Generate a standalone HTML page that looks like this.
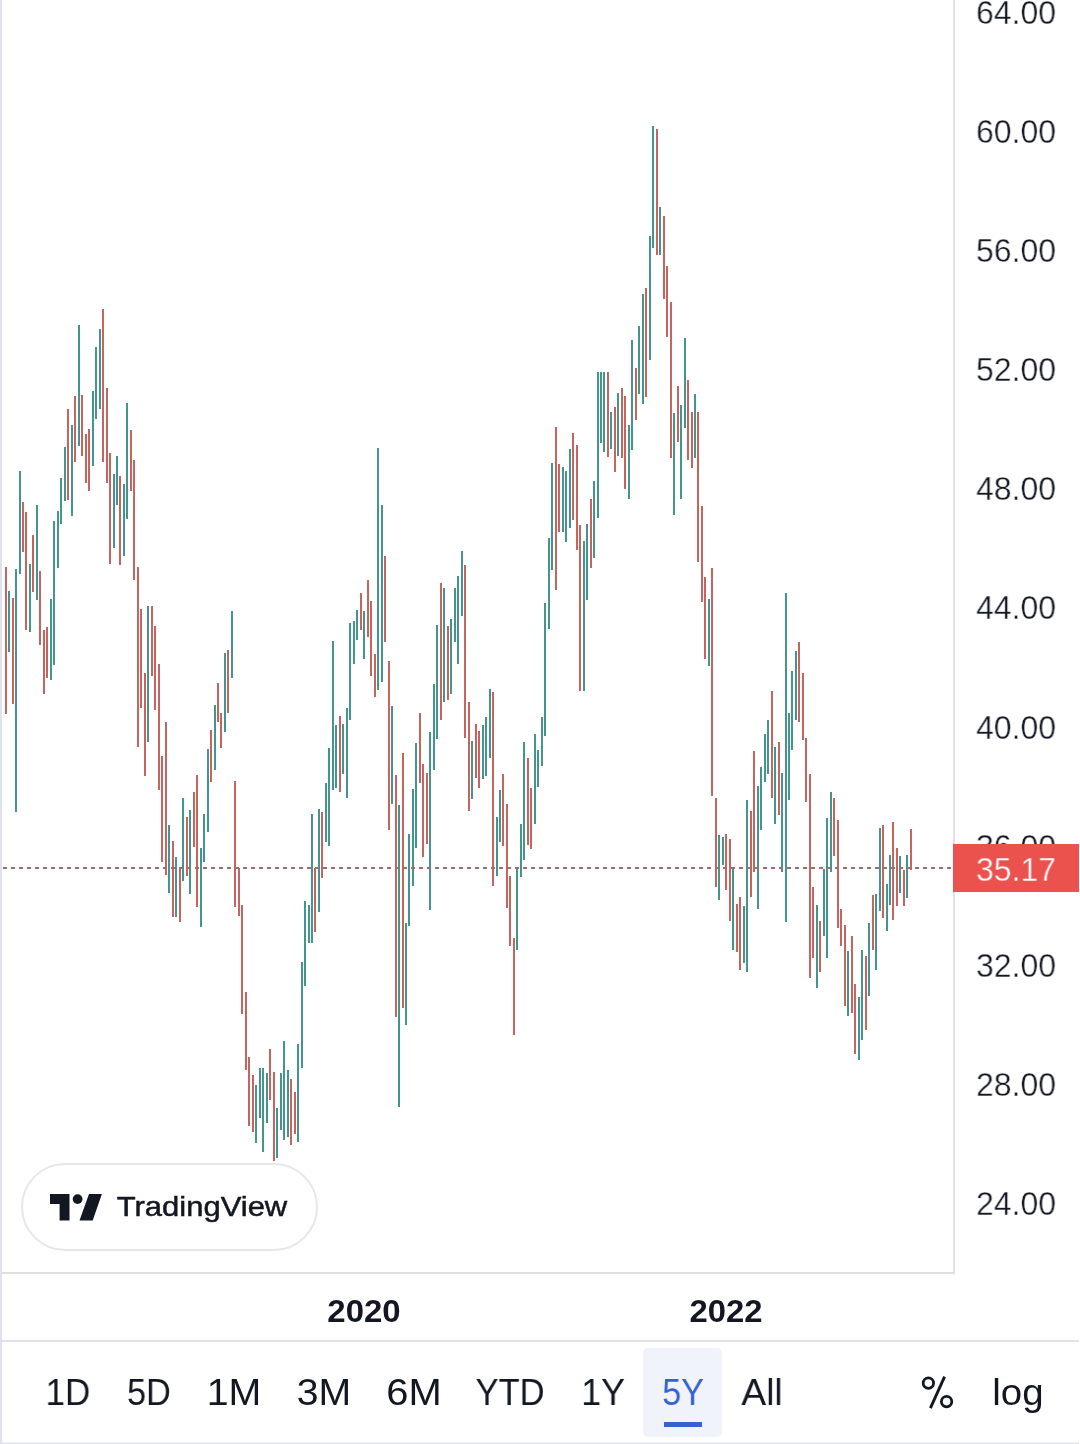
<!DOCTYPE html>
<html><head><meta charset="utf-8"><title>Chart</title>
<style>
html,body{margin:0;padding:0;background:#fff;}
body{width:1080px;height:1444px;position:relative;overflow:hidden;font-family:"Liberation Sans",sans-serif;color:#131722;}
.abs{position:absolute;}
svg{position:absolute;left:0;top:0;}
.tx{will-change:transform;position:absolute;width:300px;height:60px;line-height:60px;text-align:center;white-space:nowrap;color:#131722;transform-origin:50% 50%;}
.pl{-webkit-text-stroke:0.35px #fff;}
.tagt{color:#fff;-webkit-text-stroke:0.35px #eb524e;}
.yr{font-weight:bold;}
.rg.sel{color:#3562d0;}
.tag{position:absolute;left:953px;top:844px;width:125.7px;height:47.6px;background:#eb524e;}
.selbox{position:absolute;left:643px;top:1348px;width:79px;height:89px;background:#f0f3fa;border-radius:5px;}
.selul{position:absolute;left:664px;top:1422px;width:38px;height:5px;background:#3562d0;}
.pill{position:absolute;left:21.1px;top:1162.7px;width:292.9px;height:84.1px;border:2px solid #e7e7ea;border-radius:45px;background:#fff;}
.tvt{-webkit-text-stroke:0.5px #131722;}
</style></head>
<body>
<div class="abs" style="left:0;top:0;width:2px;height:1444px;background:#dfe2ec"></div>
<div class="selbox"></div>
<div class="selul"></div>
<svg width="1080" height="1444" viewBox="0 0 1080 1444" shape-rendering="crispEdges">
<rect x="953" y="0" width="2" height="1274" fill="#e0e0e1"/>
<rect x="2" y="1272" width="953" height="2" fill="#e0e0e2"/>
<rect x="2" y="1340" width="1077" height="2" fill="#dfe2ea"/>
<rect x="2" y="1442.6" width="1077" height="1.4" fill="#dfe2ea" shape-rendering="auto"/>
<path d="M8 591h2v61h-2zM15 569h2v243h-2zM19 471h2v103h-2zM29 564h2v68h-2zM36 505h2v95h-2zM50 599h2v81h-2zM53 521h2v144h-2zM57 511h2v57h-2zM60 478h2v46h-2zM64 447h2v54h-2zM71 425h2v91h-2zM78 325h2v121h-2zM92 391h2v75h-2zM95 347h2v72h-2zM99 329h2v80h-2zM113 474h2v74h-2zM116 456h2v49h-2zM123 484h2v72h-2zM126 403h2v116h-2zM147 606h2v136h-2zM168 825h2v68h-2zM175 857h2v60h-2zM182 798h2v83h-2zM189 810h2v84h-2zM200 848h2v79h-2zM203 814h2v48h-2zM207 749h2v83h-2zM214 705h2v65h-2zM224 653h2v79h-2zM231 611h2v67h-2zM255 1085h2v58h-2zM259 1068h2v50h-2zM262 1068h2v84h-2zM266 1073h2v50h-2zM276 1108h2v50h-2zM280 1073h2v57h-2zM283 1041h2v99h-2zM287 1070h2v67h-2zM297 1044h2v98h-2zM301 962h2v106h-2zM304 901h2v85h-2zM308 905h2v38h-2zM311 814h2v129h-2zM318 809h2v103h-2zM325 783h2v59h-2zM328 748h2v98h-2zM332 641h2v149h-2zM335 725h2v63h-2zM342 724h2v50h-2zM346 708h2v90h-2zM349 623h2v97h-2zM353 621h2v43h-2zM356 610h2v30h-2zM363 611h2v48h-2zM377 448h2v242h-2zM381 505h2v177h-2zM391 706h2v98h-2zM398 805h2v302h-2zM405 923h2v102h-2zM408 834h2v92h-2zM412 789h2v97h-2zM415 743h2v105h-2zM429 732h2v178h-2zM433 684h2v86h-2zM436 625h2v114h-2zM443 588h2v114h-2zM450 619h2v75h-2zM454 588h2v54h-2zM457 576h2v88h-2zM461 551h2v65h-2zM471 741h2v58h-2zM482 725h2v54h-2zM485 717h2v59h-2zM489 689h2v69h-2zM496 817h2v59h-2zM499 790h2v52h-2zM516 869h2v81h-2zM520 824h2v53h-2zM523 742h2v118h-2zM534 734h2v90h-2zM537 750h2v37h-2zM541 717h2v49h-2zM544 603h2v133h-2zM548 538h2v91h-2zM551 463h2v107h-2zM562 467h2v65h-2zM565 471h2v71h-2zM569 449h2v79h-2zM583 541h2v150h-2zM586 524h2v76h-2zM593 481h2v77h-2zM597 372h2v146h-2zM600 372h2v71h-2zM603 372h2v80h-2zM610 412h2v37h-2zM617 393h2v63h-2zM628 425h2v74h-2zM631 340h2v110h-2zM638 326h2v68h-2zM642 294h2v110h-2zM649 236h2v124h-2zM652 126h2v122h-2zM659 207h2v48h-2zM673 413h2v102h-2zM680 405h2v94h-2zM684 338h2v90h-2zM694 394h2v64h-2zM708 599h2v67h-2zM718 835h2v65h-2zM722 837h2v28h-2zM732 869h2v81h-2zM743 906h2v57h-2zM746 800h2v172h-2zM757 786h2v123h-2zM760 767h2v63h-2zM764 734h2v48h-2zM767 720h2v54h-2zM774 747h2v77h-2zM781 773h2v99h-2zM785 593h2v329h-2zM788 713h2v87h-2zM791 671h2v79h-2zM795 651h2v69h-2zM816 905h2v83h-2zM823 869h2v67h-2zM826 818h2v140h-2zM830 792h2v80h-2zM847 951h2v65h-2zM858 997h2v63h-2zM861 950h2v90h-2zM868 923h2v73h-2zM875 894h2v76h-2zM879 828h2v83h-2zM886 884h2v47h-2zM889 855h2v50h-2zM899 856h2v37h-2zM906 855h2v43h-2z" fill="#44958d"/>
<path d="M5 567h2v147h-2zM12 598h2v106h-2zM22 502h2v50h-2zM25 512h2v118h-2zM32 535h2v57h-2zM39 571h2v74h-2zM43 630h2v64h-2zM46 627h2v51h-2zM67 409h2v91h-2zM74 396h2v66h-2zM81 395h2v61h-2zM85 434h2v49h-2zM88 429h2v62h-2zM102 309h2v153h-2zM106 388h2v95h-2zM109 453h2v111h-2zM119 476h2v89h-2zM130 430h2v61h-2zM133 460h2v120h-2zM137 567h2v180h-2zM140 609h2v99h-2zM144 673h2v103h-2zM151 606h2v70h-2zM154 626h2v84h-2zM158 664h2v126h-2zM161 756h2v106h-2zM165 722h2v153h-2zM172 841h2v76h-2zM179 867h2v55h-2zM186 817h2v59h-2zM193 792h2v55h-2zM196 775h2v132h-2zM210 730h2v52h-2zM217 683h2v39h-2zM220 713h2v35h-2zM227 650h2v63h-2zM234 781h2v126h-2zM238 868h2v48h-2zM241 905h2v109h-2zM245 992h2v78h-2zM248 1057h2v69h-2zM252 1075h2v57h-2zM269 1049h2v51h-2zM273 1072h2v89h-2zM290 1079h2v66h-2zM294 1092h2v42h-2zM314 868h2v64h-2zM321 812h2v66h-2zM339 716h2v76h-2zM360 593h2v37h-2zM367 580h2v57h-2zM370 601h2v75h-2zM374 654h2v43h-2zM384 556h2v86h-2zM388 661h2v169h-2zM395 775h2v242h-2zM402 753h2v255h-2zM419 713h2v70h-2zM422 764h2v93h-2zM426 773h2v71h-2zM440 583h2v137h-2zM447 626h2v74h-2zM464 565h2v173h-2zM468 702h2v109h-2zM475 724h2v54h-2zM478 731h2v57h-2zM492 692h2v194h-2zM502 774h2v72h-2zM506 804h2v104h-2zM509 876h2v70h-2zM513 938h2v97h-2zM527 758h2v87h-2zM530 788h2v61h-2zM555 427h2v163h-2zM558 464h2v68h-2zM572 433h2v87h-2zM576 445h2v105h-2zM579 525h2v166h-2zM590 499h2v69h-2zM607 372h2v85h-2zM614 407h2v65h-2zM621 388h2v70h-2zM624 396h2v93h-2zM635 368h2v52h-2zM645 288h2v109h-2zM656 129h2v126h-2zM663 216h2v83h-2zM666 266h2v71h-2zM670 302h2v156h-2zM677 386h2v56h-2zM687 380h2v80h-2zM691 412h2v56h-2zM697 412h2v150h-2zM701 506h2v96h-2zM704 577h2v82h-2zM711 568h2v228h-2zM715 798h2v89h-2zM725 834h2v56h-2zM729 839h2v82h-2zM736 904h2v48h-2zM739 897h2v73h-2zM750 811h2v86h-2zM753 751h2v121h-2zM771 691h2v107h-2zM778 742h2v73h-2zM798 642h2v80h-2zM802 673h2v67h-2zM805 738h2v64h-2zM809 774h2v204h-2zM812 887h2v71h-2zM819 921h2v51h-2zM833 798h2v58h-2zM837 820h2v108h-2zM840 909h2v37h-2zM844 925h2v81h-2zM851 936h2v77h-2zM854 984h2v70h-2zM865 956h2v74h-2zM872 895h2v55h-2zM882 825h2v93h-2zM892 822h2v98h-2zM896 848h2v58h-2zM903 870h2v36h-2zM910 829h2v41h-2z" fill="#c66460"/>
<line x1="3" y1="868" x2="953" y2="868" stroke="#a26e6c" stroke-width="2" stroke-dasharray="4 4"/>
</svg>
<div class="tx pl" style="left:866px;top:-17px;font-size:32.40px;transform:scaleX(0.9869);">64.00</div>
<div class="tx pl" style="left:866px;top:102px;font-size:32.40px;transform:scaleX(0.9869);">60.00</div>
<div class="tx pl" style="left:866px;top:221px;font-size:32.40px;transform:scaleX(0.9869);">56.00</div>
<div class="tx pl" style="left:866px;top:340px;font-size:32.40px;transform:scaleX(0.9869);">52.00</div>
<div class="tx pl" style="left:866px;top:459px;font-size:32.40px;transform:scaleX(0.9869);">48.00</div>
<div class="tx pl" style="left:866px;top:578px;font-size:32.40px;transform:scaleX(0.9869);">44.00</div>
<div class="tx pl" style="left:866px;top:698px;font-size:32.40px;transform:scaleX(0.9869);">40.00</div>
<div class="tx pl" style="left:866px;top:817px;font-size:32.40px;transform:scaleX(0.9869);">36.00</div>
<div class="tx pl" style="left:866px;top:936px;font-size:32.40px;transform:scaleX(0.9869);">32.00</div>
<div class="tx pl" style="left:866px;top:1055px;font-size:32.40px;transform:scaleX(0.9869);">28.00</div>
<div class="tx pl" style="left:866px;top:1174px;font-size:32.40px;transform:scaleX(0.9869);">24.00</div>
<div class="tag"></div>
<div class="pill"></div>
<svg width="1080" height="1444" viewBox="0 0 1080 1444">
<g fill="#131722">
<path d="M50 1194.1H69.5V1220.6H59.6V1203.9H50Z"/>
<circle cx="77.6" cy="1199.1" r="4.9"/>
<path d="M89 1194.1H101.9L92.7 1220.6H79.5Z"/>
</g>
<g fill="none" stroke="#131722" stroke-width="2.8">
<circle cx="928.4" cy="1383.1" r="5.2"/>
<circle cx="946.6" cy="1401.6" r="5.2"/>
<line x1="944.6" y1="1376.6" x2="930.4" y2="1408.1" stroke-width="2.9"/>
</g>
</svg>
<div class="tx tagt" style="left:866px;top:840px;font-size:32.40px;transform:scaleX(0.9860);">35.17</div>
<div class="tx yr" style="left:214px;top:1281px;font-size:30.60px;transform:scaleX(1.0771);">2020</div>
<div class="tx yr" style="left:576px;top:1281px;font-size:30.60px;transform:scaleX(1.0727);">2022</div>
<div class="tx rg" style="left:-82px;top:1362px;font-size:37.80px;transform:scaleX(0.9246);">1D</div>
<div class="tx rg" style="left:-1px;top:1362px;font-size:37.80px;transform:scaleX(0.9042);">5D</div>
<div class="tx rg" style="left:84px;top:1362px;font-size:37.80px;transform:scaleX(1.0396);">1M</div>
<div class="tx rg" style="left:174px;top:1362px;font-size:37.80px;transform:scaleX(1.0367);">3M</div>
<div class="tx rg" style="left:264px;top:1362px;font-size:37.80px;transform:scaleX(1.0552);">6M</div>
<div class="tx rg" style="left:360px;top:1362px;font-size:37.80px;transform:scaleX(0.9129);">YTD</div>
<div class="tx rg" style="left:453px;top:1362px;font-size:37.80px;transform:scaleX(0.9457);">1Y</div>
<div class="tx rg sel" style="left:533px;top:1362px;font-size:37.80px;transform:scaleX(0.9019);">5Y</div>
<div class="tx rg" style="left:612px;top:1362px;font-size:37.80px;transform:scaleX(0.9855);">All</div>
<div class="tx rg" style="left:868px;top:1362px;font-size:37.80px;transform:scaleX(1.0179);">log</div>
<div class="tx tvt" style="left:52px;top:1177px;font-size:28.15px;transform:scaleX(1.1011);">TradingView</div>
</body></html>
